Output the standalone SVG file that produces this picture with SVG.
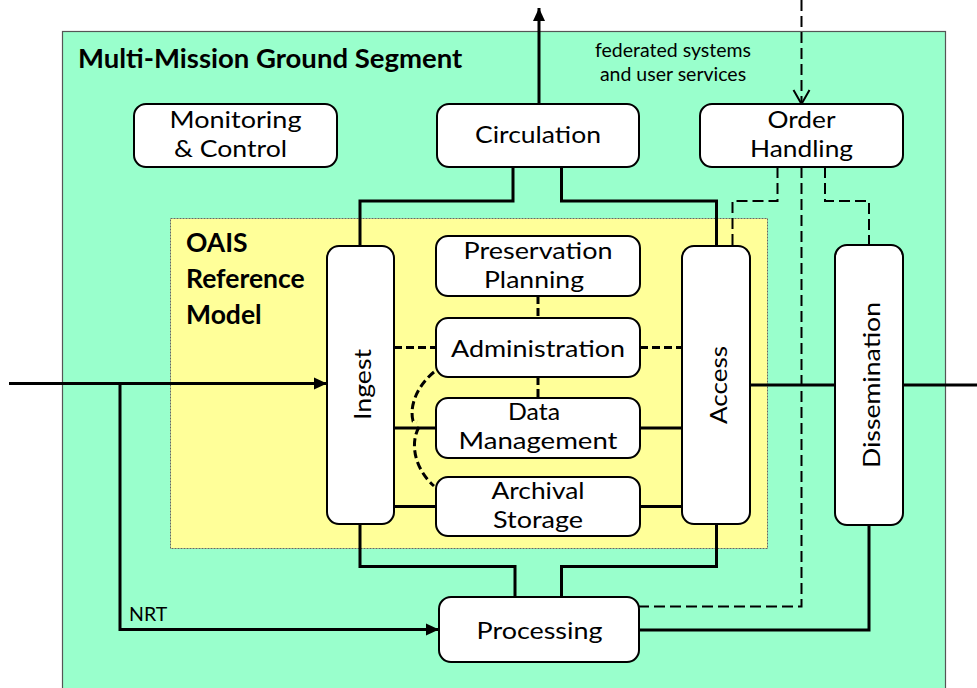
<svg xmlns="http://www.w3.org/2000/svg" width="977" height="688" viewBox="0 0 977 688">
  <style>
    .box { fill: #ffffff; stroke: #000000; stroke-width: 2; }
    .lbl { font-family: Lato, "Liberation Sans", sans-serif; font-size: 24px; fill: #000000; text-anchor: middle; }
    .title { font-family: Lato, "Liberation Sans", sans-serif; font-size: 27.5px; font-weight: bold; fill: #000000; }
    .sub { font-family: Lato, "Liberation Sans", sans-serif; font-size: 26.5px; font-weight: bold; fill: #000000; }
    .small { font-family: Lato, "Liberation Sans", sans-serif; font-size: 19.5px; fill: #000000; }
    .solid { fill: none; stroke: #000000; stroke-width: 3; }
    .dash { fill: none; stroke: #000000; stroke-width: 2; stroke-dasharray: 11 5; }
    .dashb { fill: none; stroke: #000000; stroke-width: 3; stroke-dasharray: 8 4; }
  </style>
  <defs>
    <marker id="arr" markerUnits="userSpaceOnUse" markerWidth="14" markerHeight="14" viewBox="0 0 14 14" refX="13" refY="7" orient="auto">
      <path d="M0,1 L13,7 L0,13 Z" fill="#000000"/>
    </marker>
    <marker id="open" markerUnits="userSpaceOnUse" markerWidth="18" markerHeight="20" viewBox="0 0 18 20" refX="15" refY="9" orient="auto">
      <path d="M1,1 L15,9 L1,17" fill="none" stroke="#000000" stroke-width="2"/>
    </marker>
  </defs>

  <rect width="977" height="688" fill="#ffffff"/>

  <!-- ground segment frame -->
  <g id="ground-segment">
    <rect x="62.5" y="31.5" width="883" height="680" fill="#99ffcc" stroke="#555555" stroke-width="1.2"/>
    <text class="title" x="78" y="68">Multi-Mission Ground Segment</text>
  </g>

  <!-- OAIS reference model frame -->
  <g id="oais">
    <rect x="170.5" y="218.5" width="597" height="330" fill="#ffff99" stroke="#666666" stroke-width="1" stroke-dasharray="2 1"/>
    <text class="sub" x="186" y="252">OAIS</text>
    <text class="sub" x="186" y="288">Reference</text>
    <text class="sub" x="186" y="324">Model</text>
  </g>

  <text class="small" x="673" y="57" text-anchor="middle">federated systems</text>
  <text class="small" x="673" y="81" text-anchor="middle">and user services</text>

  <!-- connectors -->
  <g id="connectors">
    <!-- external input to Ingest, branch to Processing (NRT) -->
    <path class="solid" d="M9,383.5 H327" marker-end="url(#arr)"/>
    <path class="solid" d="M120,383.5 V629.5 H439" marker-end="url(#arr)"/>
    <text class="small" x="129" y="621" font-size="17.5">NRT</text>

    <!-- Circulation outbound -->
    <path class="solid" d="M539,104 V8" marker-end="url(#arr)"/>
    <!-- Circulation to Ingest / Access -->
    <path class="solid" d="M513,167 V201 H360 V246"/>
    <path class="solid" d="M561.5,167 V201 H716.5 V246"/>

    <!-- Order Handling links -->
    <path class="dash" d="M801.5,0 V104" marker-end="url(#open)"/>
    <path class="dash" d="M777.5,167 V201 H732.5 V246"/>
    <path class="dash" d="M825,167 V201 H869 V246"/>
    <path class="dash" d="M801.5,167 V606.5 H639"/>

    <!-- internal OAIS links -->
    <path class="dashb" d="M538,296 V318"/>
    <path class="dashb" d="M538,377 V398"/>
    <path class="dashb" d="M394,347.5 H436"/>
    <path class="dashb" d="M640,347.5 H682"/>
    <path class="solid" d="M394,428 H436"/>
    <path class="solid" d="M640,428 H682"/>
    <path class="solid" d="M394,506.5 H436"/>
    <path class="solid" d="M640,506.5 H682"/>
    <path class="dashb" d="M434,372 C418,385 409,405 413,421 L417,422"/>
    <path class="dashb" d="M419,427 C409,445 416,470 434,486"/>

    <!-- Ingest / Access to Processing -->
    <path class="solid" d="M360,524 V566.5 H515 V597"/>
    <path class="solid" d="M716.5,524 V566.5 H561.5 V597"/>

    <!-- Access to Dissemination and outbound -->
    <path class="solid" d="M750,385 H835"/>
    <path class="solid" d="M903,385 H990" marker-end="url(#arr)"/>
    <!-- Dissemination to Processing -->
    <path class="solid" d="M869,525 V630 H639"/>
  </g>

  <!-- nodes -->
  <g id="monitoring-control">
    <rect class="box" x="134" y="104" width="203" height="63" rx="12"/>
    <text class="lbl" x="235.5" y="128" textLength="132" lengthAdjust="spacingAndGlyphs">Monitoring</text>
    <text class="lbl" x="230.5" y="157" textLength="113" lengthAdjust="spacingAndGlyphs">&amp; Control</text>
  </g>
  <g id="circulation">
    <rect class="box" x="437" y="104" width="202" height="63" rx="12"/>
    <text class="lbl" x="538" y="143" textLength="126" lengthAdjust="spacingAndGlyphs">Circulation</text>
  </g>
  <g id="order-handling">
    <rect class="box" x="700" y="104" width="203" height="63" rx="12"/>
    <text class="lbl" x="801.5" y="128" textLength="68" lengthAdjust="spacingAndGlyphs">Order</text>
    <text class="lbl" x="801.5" y="157" textLength="103" lengthAdjust="spacingAndGlyphs">Handling</text>
  </g>
  <g id="ingest">
    <rect class="box" x="327" y="246" width="67" height="278" rx="12"/>
    <text class="lbl" transform="translate(371,384.5) rotate(-90)" textLength="71" lengthAdjust="spacingAndGlyphs">Ingest</text>
  </g>
  <g id="preservation-planning">
    <rect class="box" x="436" y="236" width="204" height="60" rx="12"/>
    <text class="lbl" x="538" y="259" textLength="149" lengthAdjust="spacingAndGlyphs">Preservation</text>
    <text class="lbl" x="534" y="288" textLength="100" lengthAdjust="spacingAndGlyphs">Planning</text>
  </g>
  <g id="administration">
    <rect class="box" x="436" y="318" width="204" height="59" rx="12"/>
    <text class="lbl" x="538" y="357" textLength="174" lengthAdjust="spacingAndGlyphs">Administration</text>
  </g>
  <g id="data-management">
    <rect class="box" x="436" y="398" width="204" height="60" rx="12"/>
    <text class="lbl" x="534" y="420" textLength="52" lengthAdjust="spacingAndGlyphs">Data</text>
    <text class="lbl" x="538" y="449" textLength="159" lengthAdjust="spacingAndGlyphs">Management</text>
  </g>
  <g id="archival-storage">
    <rect class="box" x="436" y="477" width="204" height="59" rx="12"/>
    <text class="lbl" x="538" y="499" textLength="93" lengthAdjust="spacingAndGlyphs">Archival</text>
    <text class="lbl" x="538" y="528" textLength="90" lengthAdjust="spacingAndGlyphs">Storage</text>
  </g>
  <g id="access">
    <rect class="box" x="682" y="246" width="68" height="278" rx="12"/>
    <text class="lbl" transform="translate(727,385) rotate(-90)" textLength="78" lengthAdjust="spacingAndGlyphs">Access</text>
  </g>
  <g id="dissemination">
    <rect class="box" x="835" y="245" width="68" height="280" rx="12"/>
    <text class="lbl" transform="translate(880,385) rotate(-90)" textLength="166" lengthAdjust="spacingAndGlyphs">Dissemination</text>
  </g>
  <g id="processing">
    <rect class="box" x="439" y="597" width="200" height="65" rx="12"/>
    <text class="lbl" x="539.5" y="639" textLength="126" lengthAdjust="spacingAndGlyphs">Processing</text>
  </g>
</svg>
